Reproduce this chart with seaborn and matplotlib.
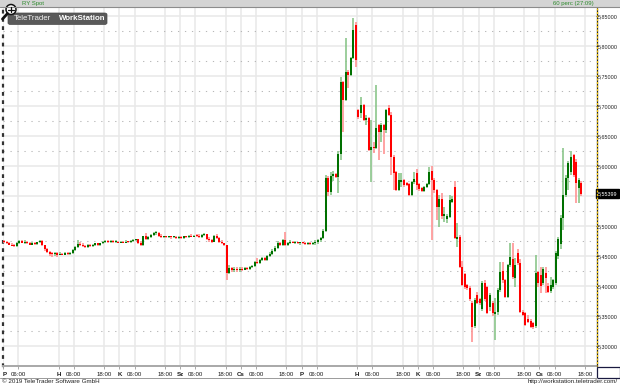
import numpy as np
import pandas as pd
import matplotlib
matplotlib.use("Agg")
import matplotlib.pyplot as plt
import matplotlib.transforms as mtransforms
from matplotlib.patches import Rectangle, FancyBboxPatch, Ellipse
from matplotlib.lines import Line2D
import seaborn as sns

# ---------------- data (hourly candles) ----------------
opens = [
 5.474,5.473,5.471,5.469,5.467,5.466,5.472,5.475,5.472,5.474,
 5.471,5.469,5.472,5.470,5.473,5.475,5.468,5.461,5.457,5.454,
 5.453,5.455,5.452,5.454,5.452,5.455,5.453,5.455,5.460,5.465,
 5.470,5.468,5.467,5.465,5.468,5.466,5.469,5.471,5.468,5.471,
 5.474,5.475,5.473,5.475,5.473,5.474,5.472,5.474,5.472,5.474,
 5.473,5.475,5.477,5.478,5.472,5.468,5.483,5.479,5.482,5.485,
 5.488,5.489,5.483,5.481,5.483,5.481,5.482,5.481,5.482,5.480,
 5.482,5.480,5.483,5.481,5.484,5.482,5.484,5.483,5.481,5.485,
 5.486,5.478,5.476,5.474,5.484,5.480,5.474,5.471,5.468,5.422,
 5.430,5.426,5.429,5.426,5.429,5.427,5.430,5.428,5.431,5.433,
 5.440,5.438,5.443,5.446,5.443,5.450,5.454,5.459,5.463,5.472,
 5.468,5.476,5.469,5.472,5.474,5.472,5.473,5.471,5.472,5.471,
 5.470,5.472,5.470,5.472,5.474,5.476,5.480,5.492,5.580,5.556,
 5.583,5.586,5.582,5.620,5.740,5.710,5.757,5.752,5.780,5.835,
 5.693,5.688,5.702,5.677,5.680,5.627,5.632,5.630,5.668,5.657,
 5.668,5.660,5.697,5.685,5.615,5.590,5.560,5.574,5.577,5.572,
 5.570,5.552,5.573,5.588,5.570,5.563,5.558,5.565,5.570,5.592,
 5.577,5.560,5.532,5.545,5.516,5.511,5.515,5.540,5.565,5.478,
 5.482,5.432,5.420,5.402,5.397,5.372,5.333,5.385,5.378,5.362,
 5.405,5.398,5.365,5.372,5.353,5.357,5.393,5.425,5.410,5.382,
 5.435,5.445,5.413,5.455,5.438,5.357,5.355,5.345,5.342,5.338,
 5.333,5.423,5.418,5.405,5.422,5.400,5.392,5.398,5.405,5.450,
 5.470,5.513,5.552,5.580,5.590,5.618,5.607,5.563,5.572,
]
highs = [
 5.476,5.475,5.474,5.472,5.470,5.474,5.477,5.476,5.476,5.475,
 5.473,5.474,5.474,5.474,5.476,5.476,5.469,5.463,5.459,5.457,
 5.456,5.456,5.456,5.455,5.456,5.456,5.456,5.462,5.467,5.477,
 5.474,5.472,5.469,5.470,5.470,5.470,5.472,5.472,5.472,5.475,
 5.476,5.476,5.476,5.476,5.476,5.475,5.475,5.475,5.476,5.475,
 5.476,5.478,5.479,5.479,5.475,5.484,5.488,5.484,5.487,5.490,
 5.492,5.490,5.486,5.484,5.484,5.484,5.483,5.484,5.483,5.483,
 5.483,5.484,5.484,5.485,5.486,5.485,5.487,5.486,5.487,5.488,
 5.487,5.481,5.478,5.485,5.486,5.481,5.476,5.472,5.469,5.435,
 5.432,5.431,5.431,5.431,5.431,5.432,5.432,5.433,5.435,5.442,
 5.446,5.445,5.448,5.448,5.452,5.456,5.462,5.466,5.475,5.474,
 5.478,5.490,5.474,5.476,5.475,5.475,5.474,5.474,5.474,5.473,
 5.473,5.473,5.474,5.476,5.478,5.482,5.495,5.585,5.584,5.590,
 5.592,5.588,5.625,5.748,5.742,5.813,5.760,5.782,5.847,5.840,
 5.695,5.715,5.704,5.685,5.682,5.677,5.640,5.735,5.670,5.672,
 5.670,5.695,5.702,5.690,5.618,5.592,5.588,5.588,5.578,5.574,
 5.572,5.575,5.590,5.595,5.572,5.565,5.567,5.572,5.598,5.600,
 5.580,5.562,5.552,5.555,5.532,5.520,5.552,5.550,5.575,5.505,
 5.485,5.442,5.422,5.404,5.400,5.375,5.380,5.390,5.380,5.408,
 5.410,5.400,5.388,5.375,5.380,5.396,5.440,5.440,5.412,5.437,
 5.472,5.472,5.447,5.462,5.445,5.360,5.357,5.352,5.345,5.340,
 5.452,5.425,5.432,5.432,5.432,5.405,5.415,5.412,5.458,5.482,
 5.518,5.630,5.585,5.608,5.625,5.620,5.612,5.580,5.575,
]
lows = [
 5.471,5.470,5.468,5.466,5.465,5.465,5.470,5.471,5.470,5.470,
 5.468,5.468,5.469,5.469,5.471,5.466,5.459,5.455,5.450,5.448,
 5.450,5.448,5.451,5.451,5.451,5.452,5.452,5.454,5.458,5.463,
 5.466,5.465,5.463,5.464,5.465,5.465,5.467,5.467,5.467,5.470,
 5.471,5.472,5.472,5.472,5.472,5.471,5.471,5.471,5.471,5.471,
 5.472,5.473,5.475,5.470,5.466,5.467,5.477,5.477,5.480,5.483,
 5.485,5.481,5.480,5.480,5.480,5.480,5.479,5.480,5.479,5.479,
 5.479,5.479,5.480,5.480,5.481,5.481,5.481,5.480,5.480,5.483,
 5.476,5.474,5.472,5.473,5.478,5.472,5.470,5.466,5.410,5.420,
 5.424,5.424,5.424,5.424,5.425,5.426,5.427,5.427,5.430,5.431,
 5.437,5.436,5.441,5.441,5.442,5.448,5.452,5.457,5.462,5.466,
 5.467,5.466,5.467,5.470,5.471,5.470,5.470,5.469,5.470,5.469,
 5.469,5.469,5.468,5.469,5.470,5.474,5.478,5.490,5.550,5.552,
 5.575,5.580,5.555,5.610,5.657,5.708,5.730,5.750,5.778,5.765,
 5.678,5.680,5.675,5.668,5.625,5.573,5.622,5.628,5.610,5.640,
 5.620,5.655,5.683,5.585,5.560,5.558,5.558,5.565,5.565,5.566,
 5.550,5.550,5.570,5.560,5.558,5.556,5.556,5.563,5.568,5.477,
 5.555,5.510,5.498,5.512,5.507,5.505,5.513,5.538,5.478,5.465,
 5.430,5.400,5.395,5.393,5.375,5.307,5.330,5.370,5.368,5.358,
 5.375,5.353,5.358,5.350,5.310,5.352,5.390,5.405,5.380,5.380,
 5.432,5.412,5.398,5.435,5.355,5.350,5.333,5.338,5.330,5.328,
 5.330,5.398,5.388,5.402,5.388,5.388,5.388,5.395,5.402,5.445,
 5.462,5.493,5.548,5.560,5.585,5.582,5.538,5.538,5.550,
]
closes = [
 5.473,5.471,5.469,5.467,5.466,5.472,5.475,5.472,5.474,5.471,
 5.469,5.472,5.470,5.473,5.475,5.468,5.461,5.457,5.454,5.453,
 5.455,5.452,5.454,5.452,5.455,5.453,5.455,5.460,5.465,5.470,
 5.468,5.467,5.465,5.468,5.466,5.469,5.471,5.468,5.471,5.474,
 5.475,5.473,5.475,5.473,5.474,5.472,5.474,5.472,5.474,5.473,
 5.475,5.477,5.478,5.472,5.468,5.483,5.479,5.482,5.485,5.488,
 5.489,5.483,5.481,5.483,5.481,5.482,5.481,5.482,5.480,5.482,
 5.480,5.483,5.481,5.484,5.482,5.484,5.483,5.481,5.485,5.486,
 5.478,5.476,5.474,5.484,5.480,5.474,5.471,5.468,5.422,5.430,
 5.426,5.429,5.426,5.429,5.427,5.430,5.428,5.431,5.433,5.440,
 5.438,5.443,5.446,5.443,5.450,5.454,5.459,5.463,5.472,5.468,
 5.476,5.469,5.472,5.474,5.472,5.473,5.471,5.472,5.471,5.470,
 5.472,5.470,5.472,5.474,5.476,5.480,5.492,5.580,5.556,5.583,
 5.586,5.582,5.620,5.740,5.710,5.757,5.752,5.780,5.827,5.777,
 5.682,5.702,5.677,5.680,5.627,5.632,5.630,5.663,5.657,5.668,
 5.660,5.693,5.685,5.615,5.588,5.560,5.577,5.577,5.568,5.568,
 5.552,5.573,5.578,5.568,5.561,5.558,5.565,5.570,5.590,5.577,
 5.560,5.532,5.545,5.516,5.520,5.516,5.543,5.545,5.480,5.482,
 5.432,5.402,5.398,5.397,5.378,5.332,5.377,5.372,5.372,5.405,
 5.378,5.355,5.385,5.355,5.357,5.393,5.423,5.410,5.382,5.435,
 5.448,5.415,5.435,5.438,5.357,5.352,5.335,5.340,5.332,5.332,
 5.422,5.405,5.400,5.428,5.413,5.390,5.402,5.410,5.455,5.478,
 5.513,5.552,5.580,5.605,5.615,5.585,5.572,5.577,5.554,
]
day_letters = ["P", "H", "K", "Sz", "Cs", "P", "H", "K", "Sz", "Cs"]
day_starts = [0, 22, 46, 70, 94, 118, 140, 164, 188, 212]   # candle index where each day begins
price_ticks = [5.30, 5.35, 5.40, 5.45, 5.50, 5.55, 5.60, 5.65, 5.70, 5.75, 5.80, 5.85]
last_price = 5.55399
instrument = "RY Spot"
interval_text = "60 perc (27:09)"

# ---------------- figure ----------------
W, H = 620, 386
sns.set_theme(style="white")
plt.rcParams['font.family'] = ['Liberation Sans', 'DejaVu Sans']

fig = plt.figure(figsize=(W / 100, H / 100), dpi=100)
fig.patch.set_facecolor("white")

def fx(px):
    return px / W

def fy(py):
    return 1 - py / H

ax = fig.add_axes([fx(3), fy(366), (596 - 3) / W, (366 - 8) / H])
ax.set_facecolor("white")

df = pd.DataFrame({"open": opens, "high": highs, "low": lows, "close": closes})
n = len(df)
df["cid"] = np.arange(n)
df["pos"] = df["cid"] + 0.5
df["dir"] = np.where(df["close"] >= df["open"], "up", "down")
df["blo"] = df[["open", "close"]].min(axis=1)
df["bhi"] = np.maximum(df[["open", "close"]].max(axis=1), df["blo"] + 0.0016)

wick = pd.concat([df.assign(y=df["low"]), df.assign(y=df["high"])], ignore_index=True)
body = pd.concat([df.assign(y=df["blo"]), df.assign(y=df["bhi"])], ignore_index=True)

sns.lineplot(data=wick, x="pos", y="y", units="cid", estimator=None, hue="dir",
             palette={"up": "#86c486", "down": "#ff8f8f"}, linewidth=1.15,
             legend=False, ax=ax, sort=False, solid_capstyle="butt", zorder=3)
sns.lineplot(data=body, x="pos", y="y", units="cid", estimator=None, hue="dir",
             palette={"up": "#007000", "down": "#ff0000"}, linewidth=1.45,
             legend=False, ax=ax, sort=False, solid_capstyle="butt", zorder=4)

ax.set_xlim(0, 593 / 2.53)
ax.set_ylim(5.85 - 350 / 600, 5.85 + 8 / 600)
ax.set_xlabel("")
ax.set_ylabel("")

# x ticks: day letters + 06:00 / 18:00
tpos, tlab, tbold = [], [], []
for s, letter in zip(day_starts, day_letters):
    tpos.append(s); tlab.append(letter); tbold.append(True)
    tpos.append(s + 6); tlab.append("06:00"); tbold.append(False)
    if letter != "P":
        tpos.append(s + 18); tlab.append("18:00"); tbold.append(False)
ax.set_xticks(tpos)
ax.set_xticklabels(tlab)
for lab, b in zip(ax.get_xticklabels(), tbold):
    lab.set_fontweight("bold" if b else "normal")
ax.get_xticklabels()[0].set_horizontalalignment("left")
ax.tick_params(axis="x", which="major", bottom=True, length=2, width=0.6, color="#9a9a9a",
               pad=2.2, labelsize=4.4, labelcolor="#1a1a1a")

# y ticks on the right
ax.yaxis.tick_right()
ax.set_yticks(price_ticks)
ax.set_yticklabels(["" if abs(v - 5.55) < 1e-9 else f"{v:.5f}".replace(".", ",")
                    for v in price_ticks])
ax.set_yticks([v + 0.025 for v in price_ticks[:-1]], minor=True)
ax.tick_params(axis="y", which="major", right=True, length=1.2, width=0.6, color="#333333",
               pad=0.4, labelsize=3.9, labelcolor="#222222")
ax.tick_params(axis="y", which="minor", length=0)

ax.grid(axis="y", which="major", color="#e8e8e8", lw=1.1)
ax.grid(axis="y", which="minor", color="#b8b8b8", lw=0.75, linestyle=(0, (1.2, 5.5)))
ax.grid(axis="x", which="major", color="#e8e8e8", lw=1.1)
ax.set_axisbelow(True)

for side in ["top", "right"]:
    ax.spines[side].set_visible(False)
ax.spines["bottom"].set_color("#a8a8a8")
ax.spines["bottom"].set_linewidth(1.4)
ax.spines["left"].set_color("#333333")
ax.spines["left"].set_linewidth(1.6)
ax.spines["left"].set_linestyle((0, (0.7, 3.0)))

# current price box
trans = mtransforms.blended_transform_factory(fig.transFigure, ax.transData)
ax.text(fx(597.8), last_price, f"{last_price:.5f}".replace(".", ","), transform=trans,
        ha="left", va="center", fontsize=3.9, color="white", zorder=10,
        bbox=dict(boxstyle="square,pad=0.3", fc="black", ec="black"))

# right axis dotted yellow line
fig.add_artist(Line2D([fx(596.5)] * 2, [fy(8), fy(366)], color="#222222", lw=0.9))
fig.add_artist(Line2D([fx(596.5)] * 2, [fy(8), fy(366)], color="#f0c000", lw=0.9,
                      dashes=(1.6, 1.2)))

# top bar
fig.add_artist(Rectangle((0, fy(7.5)), 1, 7.5 / H, transform=fig.transFigure,
                         fc="#d4d4d4", ec="none"))
fig.add_artist(Line2D([0, 1], [fy(7.3)] * 2, color="#8c8c8c", lw=0.8))
fig.text(fx(22), fy(3.9), instrument, fontsize=4.3, color="#2e8b2e", ha="left", va="center")
fig.text(fx(594), fy(3.9), interval_text, fontsize=4.3, color="#2e8b2e", ha="right", va="center")

# logo
fig.add_artist(FancyBboxPatch((fx(8), fy(24.5)), fx(99), 11.5 / H, transform=fig.transFigure,
                              boxstyle="round,pad=0,rounding_size=0.004",
                              fc="#5a5a5a", ec="#4a4a4a", lw=0.5))
fig.text(fx(14), fy(18.9), "TeleTrader", fontsize=5.7, color="#f2f2f2", ha="left", va="center")
fig.text(fx(105), fy(18.9), "WorkStation", fontsize=5.7, color="white", fontweight="bold",
         ha="right", va="center")

# magnifier icon
fig.add_artist(Line2D([fx(7.5), fx(2.5)], [fy(13.5), fy(19)], color="#111111", lw=2.0,
                      solid_capstyle="round"))
fig.add_artist(Ellipse((fx(11), fy(9.5)), fx(10), 10 / H, transform=fig.transFigure,
                       fc="white", ec="#111111", lw=1.1))
fig.add_artist(Line2D([fx(8.3), fx(13.7)], [fy(9.5)] * 2, color="#111111", lw=0.9))
fig.add_artist(Line2D([fx(11)] * 2, [fy(6.8), fy(12.2)], color="#111111", lw=0.9))

# bottom-right box and separator
fig.add_artist(Line2D([0, fx(596.5)], [fy(377.5)] * 2, color="#9a9a9a", lw=0.7))
fig.add_artist(Rectangle((fx(596.5), fy(377.5)), (620 - 596.5) / W, 11 / H,
                         transform=fig.transFigure, fill=False, ec="#1a1a40", lw=0.9))

# footer
fig.text(fx(2), fy(381.8), "\u00a9 2019 TeleTrader Software GmbH", fontsize=4.5,
         color="#222222", ha="left", va="center")
fig.text(fx(618), fy(381.8), "http://workstation.teletrader.com/", fontsize=4.5,
         color="#222222", ha="right", va="center")

fig.savefig("out.png", dpi=100, facecolor="white")
